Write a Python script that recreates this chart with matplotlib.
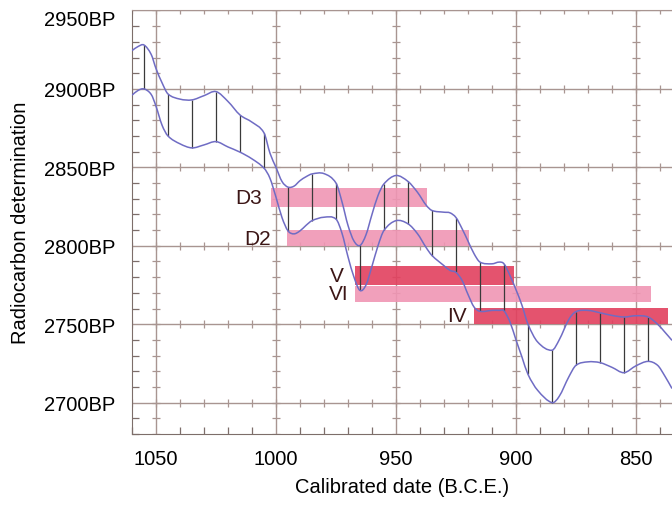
import numpy as np
import matplotlib
matplotlib.use("Agg")
import matplotlib.pyplot as plt
from matplotlib.path import Path
from matplotlib.patches import PathPatch

plt.rcParams["font.family"] = ["Liberation Sans", "DejaVu Sans"]

# calibration curve, upper / lower bound (BP) by calendar year (BCE)
years = [1060, 1057.5, 1055, 1052, 1050, 1047.5, 1045, 1040, 1035, 1030,
         1025, 1020, 1015, 1010, 1005, 1002.5, 1000, 997.5, 995, 992.5,
         990, 987.5, 985, 980, 975, 972.5, 970, 967.5, 965, 962.5,
         960, 957.5, 955, 950, 945, 941, 937.5, 935, 930, 927.5,
         925, 922.5, 920, 917.5, 915, 910, 907, 905, 902.5, 900,
         897.5, 895, 891, 885, 882, 878, 875, 870, 865, 860,
         855, 850, 845, 841, 838, 835]
upper = [2924.4, 2927, 2928, 2922, 2913, 2904, 2896.8, 2893.5, 2893, 2895.7,
         2898.3, 2892, 2883.4, 2878.8, 2872, 2859, 2850, 2841, 2837.4, 2838,
         2841.5, 2844, 2845.8, 2846, 2840, 2828, 2813, 2803, 2800.2, 2807,
         2820, 2832, 2839.5, 2844.8, 2841, 2834, 2826, 2822.5, 2821.4, 2821,
         2818, 2811, 2803, 2795, 2789.6, 2788.5, 2789.6, 2788.5, 2781, 2772,
         2762, 2750, 2738.7, 2733.4, 2740, 2753, 2758, 2758.8, 2757.3, 2755.6,
         2754.6, 2755.4, 2754.6, 2750, 2745, 2739.7]
lower = [2896, 2899, 2900, 2896.5, 2889, 2877, 2870, 2865, 2862.4, 2864.3,
         2866.4, 2863, 2859.7, 2855.4, 2849.5, 2843, 2831, 2818, 2809.5, 2807.6,
         2809.5, 2813, 2816, 2818.2, 2817, 2808, 2793, 2780, 2771.5, 2775,
         2787, 2800, 2809.8, 2816, 2814, 2807.6, 2799, 2793.8, 2787.3, 2784.3,
         2783, 2778, 2769, 2761, 2758.2, 2758.8, 2758.8, 2758.5, 2751.4, 2740,
         2729, 2718, 2707.9, 2700, 2704, 2716.4, 2723.8, 2726, 2725.5, 2722.5,
         2719.1, 2723.5, 2726.3, 2723.8, 2717, 2709]

# years where a vertical bracket joins the two bounds
bracket_years = [1055, 1045, 1035, 1025, 1015, 1005, 995, 985, 975, 965,
                 955, 945, 935, 925, 915, 905, 895, 885, 875, 865, 855, 845]

# date ranges (start, end in BCE) and BP band (low, high)
bar_names = ["D3", "D2", "V", "VI", "IV"]
bar_start = [1002, 995.3, 967, 967, 917.4]
bar_end = [937.2, 919.5, 901, 843.8, 836.5]
bar_low = [2824.6, 2799.8, 2775, 2764.1, 2750.3]
bar_high = [2836.7, 2809.8, 2786.8, 2774.5, 2760.3]
bar_strong = [False, False, True, False, True]
label_x = [1006, 1002, 971.7, 969.6, 920.5]

x_major = [1050, 1000, 950, 900, 850]
y_major = [2700, 2750, 2800, 2850, 2900, 2950]

GRID = "#a89591"
PINK = "#f096b4"
RED = "#e2405e"
CURVE = "#6f6cc4"


def smooth_path(x, y):
    """read points -> cubic bezier path (finite-difference tangents)"""
    x = np.asarray(x, float)
    y = np.asarray(y, float)
    n = len(x)
    m = np.empty(n)
    m[1:-1] = (y[2:] - y[:-2]) / (x[2:] - x[:-2])
    m[0] = (y[1] - y[0]) / (x[1] - x[0])
    m[-1] = (y[-1] - y[-2]) / (x[-1] - x[-2])
    verts = [(x[0], y[0])]
    codes = [Path.MOVETO]
    for i in range(n - 1):
        dx = x[i + 1] - x[i]
        verts += [(x[i] + dx / 3, y[i] + m[i] * dx / 3),
                  (x[i + 1] - dx / 3, y[i + 1] - m[i + 1] * dx / 3),
                  (x[i + 1], y[i + 1])]
        codes += [Path.CURVE4] * 3
    return Path(verts, codes)


fig = plt.figure(figsize=(6.72, 5.06), dpi=100)
ax = fig.add_axes([0.1964, 0.1403, 0.8036, 0.837])

ax.set_xlim(1060, 835)
ax.set_ylim(2680, 2950)

# grid with little crosses at every 10 units
ax.set_xticks(x_major)
ax.set_yticks(y_major)
ax.set_yticklabels([f"{v}BP" for v in y_major])
ax.get_yticklabels()[-1].set_verticalalignment("top")
ax.set_xticks(np.arange(1060, 834, -10), minor=True)
ax.set_yticks(np.arange(2680, 2951, 10), minor=True)
ax.grid(True, which="major", color=GRID, lw=1.0, zorder=1)
ax.set_axisbelow(True)

xm = np.arange(1060, 834, -10)
ym = np.arange(2680, 2951, 10)
for yv in y_major:
    ax.plot(xm, np.full(len(xm), yv), ls="none", marker="|", ms=6, mew=0.9,
            color=GRID, zorder=1)
for xv in x_major:
    ax.plot(np.full(len(ym), xv), ym, ls="none", marker="_", ms=6, mew=0.9,
            color=GRID, zorder=1)

ax.tick_params(which="both", direction="in", color="#7d6e6a")
ax.tick_params(which="major", length=0, labelsize=14.5, pad=12)
ax.tick_params(axis="x", which="major", pad=11)
ax.tick_params(which="minor", length=5, width=0.9)

ax.spines["right"].set_visible(False)
ax.spines["top"].set_color(GRID)
ax.spines["left"].set_color("#7d6e6a")
ax.spines["bottom"].set_color("#7d6e6a")

# sample bars
for i, name in enumerate(bar_names):
    col = RED if bar_strong[i] else PINK
    ax.fill_between([bar_start[i], bar_end[i]], bar_low[i], bar_high[i],
                    color=col, alpha=0.9, lw=0, zorder=2)
    ax.text(label_x[i], (bar_low[i] + bar_high[i]) / 2, name, ha="right",
            va="center", fontsize=15, color="#3c1616", zorder=5)

# calibration curve
yr = np.array(years)
up = np.array(upper)
lo = np.array(lower)
mask = np.isin(yr, bracket_years)
ax.vlines(yr[mask], lo[mask], up[mask], color="#3a3a3a", lw=0.9, zorder=3)
for band in (up, lo):
    ax.add_patch(PathPatch(smooth_path(yr, band), fill=False, edgecolor=CURVE,
                           lw=1.1, zorder=4))

ax.set_xlabel("Calibrated date (B.C.E.)", fontsize=14.5, labelpad=6)
ax.set_ylabel("Radiocarbon determination", fontsize=14.5, labelpad=10)

fig.savefig("out.png", dpi=100)
